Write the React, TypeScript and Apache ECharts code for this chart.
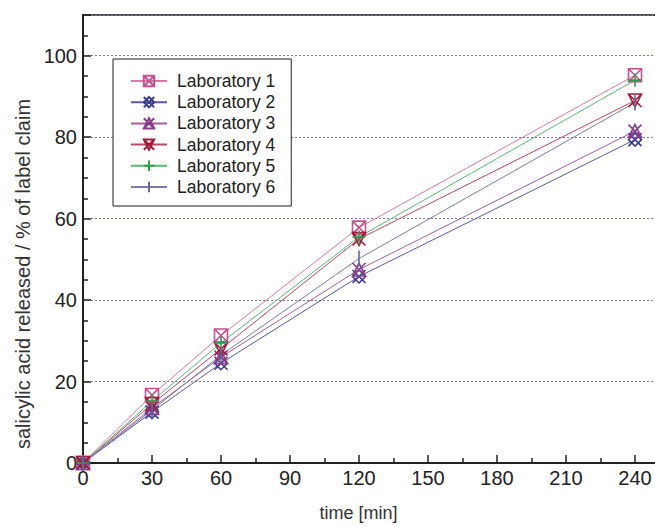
import React, { useEffect, useRef } from "react";
import * as echarts from "echarts";

const times = [0, 30, 60, 120, 240];
const labNames = ["Laboratory 1", "Laboratory 2", "Laboratory 3", "Laboratory 4", "Laboratory 5", "Laboratory 6"];
const lab1 = [0, 16.7, 31.3, 57.8, 95.2];
const lab2 = [0, 12.5, 24.5, 45.8, 79.4];
const lab3 = [0, 13.5, 26.0, 47.5, 81.5];
const lab4 = [0, 14.5, 28.0, 55.0, 89.0];
const lab5 = [0, 15.2, 29.5, 55.5, 94.0];
const lab6 = [0, 13.0, 26.5, 50.2, 88.5];
const xTicks = [0, 30, 60, 90, 120, 150, 180, 210, 240];
const yTicks = [0, 20, 40, 60, 80, 100];

const labValues = [lab1, lab2, lab3, lab4, lab5, lab6];
const colors = ["#c84f90", "#3c3c8e", "#8a3c8c", "#a01e3c", "#2f9e4a", "#66669a"];
const lineColors = ["#d77aa8", "#5a5aa0", "#a0609e", "#b84a62", "#5cb872", "#7c7cac"];
const symbols = [
  "path://M0,0L10,0L10,10L0,10Z M0,0L10,10 M10,0L0,10",
  "path://M5,0L10,5L5,10L0,5Z M0,0L10,10 M10,0L0,10",
  "path://M5,0L10,10L0,10Z M0,0L10,10 M10,0L0,10",
  "path://M0,0L10,0L5,10Z M0,0L10,10 M10,0L0,10",
  "path://M5,0L5,10 M0,5L10,5",
  "path://M0,5L0,5 M5,0L5,10 M10,5L10,5",
];
const symbolSizes = [13, 13, 13, 13, 13, 16];

export default function App() {
  const ref = useRef<HTMLDivElement>(null);
  useEffect(() => {
    if (!ref.current) return;
    const chart = echarts.init(ref.current, null, { renderer: "svg" });
    const font = "Liberation Sans, Arial, Helvetica, sans-serif";
    chart.setOption({
      animation: false,
      backgroundColor: "#ffffff",
      grid: {
        left: 83,
        top: 15,
        width: 575,
        height: 448,
        show: true,
        borderColor: "#111",
        borderWidth: 1.5,
        backgroundColor: "transparent",
      },
      legend: {
        orient: "vertical",
        left: 113,
        top: 59,
        backgroundColor: "#fff",
        borderColor: "#222",
        borderWidth: 1,
        padding: [13, 16, 10, 17],
        itemWidth: 36,
        itemHeight: 13,
        itemGap: 3.2,
        textStyle: { fontSize: 17.5, color: "#222", fontFamily: font, padding: [0, 0, 0, 5] },
        data: labNames,
      },
      xAxis: {
        type: "value",
        min: 0,
        max: 250,
        interval: 30,
        name: "time [min]",
        nameLocation: "middle",
        nameGap: 41,
        nameTextStyle: { fontSize: 18, color: "#333", fontFamily: font, padding: [0, 24, 0, 0] },
        axisLine: { show: true, onZero: false, lineStyle: { color: "#222", width: 2 } },
        axisTick: { show: true, inside: true, length: 8, lineStyle: { color: "#222", width: 1.5 } },
        minorTick: { show: true, splitNumber: 2, length: 5, lineStyle: { color: "#222", width: 1.5 } },
        axisLabel: {
          fontSize: 20,
          color: "#222",
          fontFamily: font,
          margin: 5,
          showMaxLabel: false,
          formatter: (v: number) => (xTicks.includes(v) ? String(v) : ""),
        },
        splitLine: { show: false },
      },
      yAxis: {
        type: "value",
        min: 0,
        max: 110,
        interval: 20,
        name: "salicylic acid released / % of label claim",
        nameLocation: "middle",
        nameGap: 50,
        nameTextStyle: { fontSize: 20, color: "#333", fontFamily: font, padding: [0, 70, 0, 0] },
        axisLine: { show: true, onZero: false, lineStyle: { color: "#222", width: 2 } },
        axisTick: { show: true, inside: true, length: 8, lineStyle: { color: "#222", width: 1.5 } },
        minorTick: { show: true, splitNumber: 4, length: 5, lineStyle: { color: "#222", width: 1.5 } },
        axisLabel: {
          fontSize: 20,
          color: "#222",
          fontFamily: font,
          margin: 6,
          showMaxLabel: false,
          formatter: (v: number) => (yTicks.includes(v) ? String(v) : ""),
        },
        splitLine: {
          show: true,
          lineStyle: { color: "#7a7aa8", width: 1, type: [2, 2] },
        },
      },
      series: labNames.map((name, i) => ({
        name,
        type: "line",
        data: times.map((t, j) => [t, labValues[i][j]]),
        symbol: symbols[i],
        symbolSize: symbolSizes[i],
        showAllSymbol: true,
        clip: false,
        lineStyle: { color: lineColors[i], width: 1 },
        itemStyle: { color: "rgba(0,0,0,0)", borderColor: colors[i], borderWidth: 1.6 },
        emphasis: { disabled: true },
        z: 3,
      })),
    });
    return () => chart.dispose();
  }, []);
  return (
    <div style={{ position: "fixed", left: 0, top: 0, width: 655, height: 527, overflow: "hidden", background: "#fff" }}>
      <div ref={ref} style={{ width: 700, height: 527 }} />
    </div>
  );
}
